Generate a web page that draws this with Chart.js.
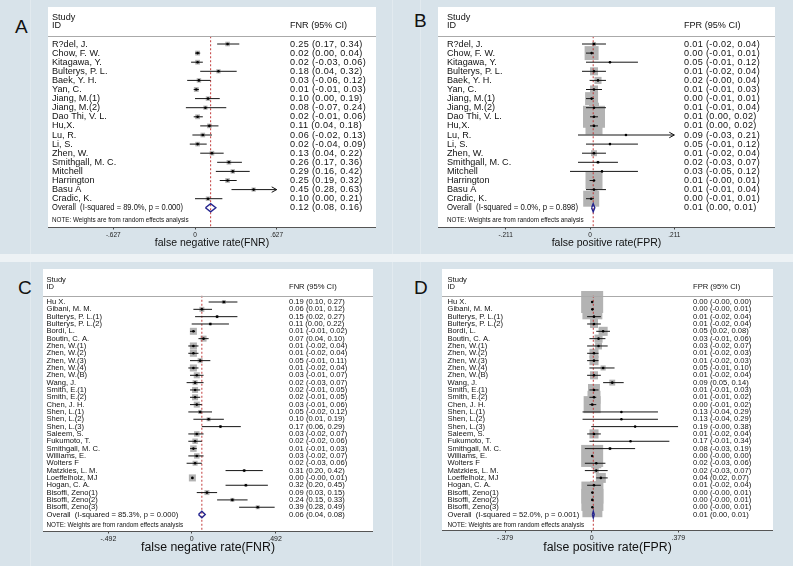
<!DOCTYPE html>
<html>
<head>
<meta charset="utf-8">
<title>Forest plots FNR / FPR</title>
<script src="https://cdn.jsdelivr.net/npm/chart.js@4.4.1/dist/chart.umd.min.js"></script>
<style>
  body { margin: 0; }
  #page { position: relative; width: 793px; height: 566px; background: #d8e3ea; overflow: hidden; font-family: "Liberation Sans", Arial, sans-serif; }
  .band { position: absolute; left: 0; top: 254px; width: 793px; height: 8px; background: #edf2f5; }
  .seam { position: absolute; top: 0; width: 1px; height: 566px; background: #e2eaef; }
  .letter { position: absolute; font-size: 19px; color: #111; line-height: 1; }
  canvas { position: absolute; }
</style>
</head>
<body>
<div id="page">
  <div class="seam" style="left:30px"></div>
  <div class="seam" style="left:392px"></div>
  <div class="seam" style="left:420px"></div>
  <div class="band"></div>
  <div class="letter" style="left:15px;top:17px">A</div>
  <div class="letter" style="left:414px;top:11px">B</div>
  <div class="letter" style="left:18px;top:278px">C</div>
  <div class="letter" style="left:414px;top:278px">D</div>
  <canvas id="chartA"></canvas>
  <canvas id="chartB"></canvas>
  <canvas id="chartC"></canvas>
  <canvas id="chartD"></canvas>
</div>
<script>
const FONT = '"Liberation Sans", Arial, Helvetica, sans-serif';

// ---- studies of panels A and B ----
const studiesAB = ["R?del, J.", "Chow, F. W.", "Kitagawa, Y.", "Bulterys, P. L.", "Baek, Y. H.", "Yan, C.",
    "Jiang, M.(1)", "Jiang, M.(2)", "Dao Thi, V. L.", "Hu,X.", "Lu, R.", "Li, S.", "Zhen, W.",
    "Smithgall, M. C.", "Mitchell", "Harrington", "Basu A", "Cradic, K."];

const fnrA     = [0.25, 0.02, 0.02, 0.18, 0.03, 0.01, 0.10, 0.08, 0.02, 0.11, 0.06, 0.02, 0.13, 0.26, 0.29, 0.25, 0.45, 0.10];
const fnrALow  = [0.17, 0.00, -0.03, 0.04, -0.06, -0.01, 0.00, -0.07, -0.01, 0.04, -0.02, -0.04, 0.04, 0.17, 0.16, 0.19, 0.28, 0.00];
const fnrAHigh = [0.34, 0.04, 0.06, 0.32, 0.12, 0.03, 0.19, 0.24, 0.06, 0.18, 0.13, 0.09, 0.22, 0.36, 0.42, 0.32, 0.63, 0.21];
const weightA  = [5.5, 6.1, 5.9, 4.8, 5.2, 6.1, 5.3, 4.6, 6.0, 5.6, 5.6, 5.5, 5.5, 5.5, 5.1, 5.8, 4.6, 5.3];
const overallA = [0.12, 0.08, 0.16];
const hetA = ["89.0%", "0.000"];
const ticksA = [-0.627, 0, 0.627];

const fprB     = [0.01, 0.004, 0.05, 0.01, 0.02, 0.01, 0.004, 0.01, 0.01, 0.01, 0.09, 0.05, 0.01, 0.02, 0.03, 0.01, 0.01, 0.003];
const fprBLow  = [-0.02, -0.01, -0.01, -0.02, -0.001, -0.01, -0.01, -0.01, 0.00, 0.00, -0.03, -0.01, -0.02, -0.03, -0.05, -0.001, -0.01, -0.01];
const fprBHigh = [0.04, 0.01, 0.12, 0.04, 0.04, 0.03, 0.01, 0.04, 0.02, 0.02, 0.213, 0.12, 0.04, 0.07, 0.12, 0.01, 0.04, 0.01];
const weightB  = [0.8, 9.4, 0.2, 3.1, 2.4, 3.1, 8.1, 4.8, 23.2, 13.9, 0.1, 0.2, 1.7, 0.4, 0.2, 13.9, 2.4, 12.3];
const overallB = [0.008, 0.004, 0.012];
const hetB = ["0.0%", "0.898"];
const ticksB = [-0.211, 0, 0.211];

// ---- studies of panels C and D ----
const studiesCD = ["Hu X.", "Gibani, M. M.", "Bulterys, P. L.(1)", "Bulterys, P. L.(2)", "Bordi, L.", "Boutin, C. A.",
    "Zhen, W.(1)", "Zhen, W.(2)", "Zhen, W.(3)", "Zhen, W.(4)", "Zhen, W.(B)", "Wang, J.", "Smith, E.(1)",
    "Smith, E.(2)", "Chen, J. H.", "Shen, L.(1)", "Shen, L.(2)", "Shen, L.(3)", "Saleem, S.", "Fukumoto, T.",
    "Smithgall, M. C.", "Williams, E.", "Wolters F", "Matzkies, L. M.", "Loeffelholz, MJ", "Hogan, C. A.",
    "Bisoffi, Zeno(1)", "Bisoffi, Zeno(2)", "Bisoffi, Zeno(3)"];

const fnrC     = [0.19, 0.06, 0.15, 0.11, 0.01, 0.07, 0.01, 0.01, 0.05, 0.01, 0.03, 0.02, 0.02, 0.02, 0.03, 0.05, 0.10, 0.17, 0.03, 0.02, 0.01, 0.03, 0.02, 0.31, 0.004, 0.32, 0.09, 0.24, 0.39];
const fnrCLow  = [0.10, 0.01, 0.02, 0.00, -0.01, 0.04, -0.02, -0.02, -0.01, -0.02, -0.01, -0.03, -0.01, -0.01, -0.01, -0.02, 0.01, 0.06, -0.02, -0.02, -0.01, -0.02, -0.03, 0.20, -0.001, 0.20, 0.03, 0.15, 0.28];
const fnrCHigh = [0.27, 0.12, 0.27, 0.22, 0.02, 0.10, 0.04, 0.04, 0.11, 0.04, 0.07, 0.07, 0.05, 0.05, 0.06, 0.12, 0.19, 0.29, 0.07, 0.06, 0.03, 0.07, 0.06, 0.42, 0.01, 0.45, 0.15, 0.33, 0.49];
const weightC  = [2.0, 3.1, 1.1, 1.1, 6.1, 4.5, 6.1, 6.1, 3.1, 6.1, 4.5, 3.1, 4.5, 4.5, 4.5, 2.0, 2.0, 1.1, 3.7, 3.7, 5.2, 3.7, 3.1, 1.1, 6.1, 1.1, 3.1, 2.0, 2.0];
const overallC = [0.06, 0.04, 0.08];
const hetC = ["85.3%", "0.000"];
const ticksC = [-0.492, 0, 0.492];

const fprD     = [0.002, 0.003, 0.01, 0.01, 0.05, 0.03, 0.03, 0.01, 0.01, 0.05, 0.01, 0.09, 0.01, 0.01, 0.002, 0.13, 0.13, 0.19, 0.01, 0.17, 0.08, 0.002, 0.02, 0.02, 0.04, 0.01, 0.003, 0.003, 0.003];
const fprDLow  = [-0.001, -0.001, -0.02, -0.02, 0.02, -0.01, -0.02, -0.02, -0.02, -0.01, -0.02, 0.05, -0.01, -0.01, -0.01, -0.04, -0.04, -0.002, -0.02, -0.01, -0.03, -0.001, -0.03, -0.03, 0.02, -0.02, -0.001, -0.001, -0.001];
const fprDHigh = [0.004, 0.007, 0.04, 0.04, 0.08, 0.06, 0.07, 0.03, 0.03, 0.10, 0.04, 0.14, 0.03, 0.02, 0.02, 0.29, 0.29, 0.378, 0.04, 0.34, 0.19, 0.004, 0.06, 0.07, 0.07, 0.04, 0.006, 0.006, 0.006];
const weightD  = [11.2, 9.2, 1.5, 1.5, 1.9, 1.5, 1.1, 1.9, 1.9, 0.6, 1.5, 0.8, 3.3, 3.9, 6.7, 0.02, 0.02, 0.02, 1.9, 0.02, 0.2, 11.2, 2.3, 0.6, 2.3, 1.5, 11.2, 11.2, 9.2];
const overallD = [0.007, 0.003, 0.011];
const hetD = ["52.0%", "0.001"];
const ticksD = [-0.379, 0, 0.379];

// page geometry of each panel (white plot region, axis, text columns)
const layoutA = {left: 48, right: 376, top: 7, axisY: 227, bottom: 252, zeroX: 195, tickX: 276.7, row0: 44, rowH: 9.1,
    nameX: 52, ciX: 290, font: 9.1, ciSpacing: "0.35px", overallW: 131, note: 6.3, tick: 6.5,
    titleFont: 10.5, titlePad: 2.5, boxK: 1.96};
const layoutB = {left: 438, right: 775, top: 7, axisY: 227, bottom: 252, zeroX: 590, tickX: 674.3, row0: 44, rowH: 9.1,
    nameX: 447, ciX: 684, font: 9.1, ciSpacing: "0.35px", overallW: 131, note: 6.3, tick: 6.5,
    titleFont: 10.5, titlePad: 2.5, boxK: 4.56};
const layoutC = {left: 43, right: 373, top: 269, axisY: 531, bottom: 562, zeroX: 191.7, tickX: 275, row0: 302, rowH: 7.33,
    nameX: 46.5, ciX: 289, font: 7.6, ciSpacing: "0px", overallW: 134, note: 6.3, tick: 7,
    titleFont: 12.3, titlePad: 7.5, boxK: 2.84};
const layoutD = {left: 442, right: 773, top: 269, axisY: 530, bottom: 562, zeroX: 591.7, tickX: 678.3, row0: 302, rowH: 7.33,
    nameX: 447.5, ciX: 693, font: 7.6, ciSpacing: "0px", overallW: 134, note: 6.3, tick: 7,
    titleFont: 12.3, titlePad: 7.5, boxK: 6.58};

function ciText(e, lo, hi){
    return `${e.toFixed(2)} (${lo.toFixed(2)}, ${hi.toFixed(2)})`;
}

function tickLabel(v){
    if(v === 0) return "0";
    return (v < 0 ? "-" : "") + Math.abs(v).toFixed(3).slice(1);
}

const forestText = {
    id: "forestText",
    beforeDraw(chart){
        const {ctx, chartArea: a} = chart;
        ctx.save();
        ctx.fillStyle = "#fff";
        ctx.fillRect(a.left, a.top, a.right - a.left, a.bottom - a.top);
        ctx.restore();
    },
    afterDraw(chart, args, o){
        const {ctx, chartArea: a} = chart;
        const ys = chart.scales.y;
        const last = o.rows.length - 1;
        ctx.save();
        ctx.fillStyle = "#111";
        ctx.textBaseline = "middle";
        ctx.font = o.font + "px " + FONT;
        ctx.fillText("Study", o.nameX, ys.getPixelForValue(-2.95));
        ctx.fillText("ID", o.nameX, ys.getPixelForValue(-2.0));
        ctx.fillText(o.ciHead, o.ciX, ys.getPixelForValue(-2.0));
        o.rows.forEach((r, i) => {
            const py = ys.getPixelForValue(i);
            if(i === last) ctx.fillText(r[0], o.nameX, py, o.overallW);
            else ctx.fillText(r[0], o.nameX, py);
        });
        ctx.letterSpacing = o.ciSpacing;
        o.rows.forEach((r, i) => ctx.fillText(r[1], o.ciX, ys.getPixelForValue(i)));
        ctx.letterSpacing = "0px";
        ctx.font = o.note + "px " + FONT;
        ctx.fillText("NOTE: Weights are from random effects analysis", o.nameX, ys.getPixelForValue(o.rows.length + 0.4));
        const hy = Math.round(ys.getPixelForValue(-0.85)) + 0.5;
        ctx.strokeStyle = "#aaa";
        ctx.lineWidth = 1;
        ctx.beginPath();
        ctx.moveTo(a.left, hy);
        ctx.lineTo(a.right, hy);
        ctx.stroke();
        ctx.restore();
    }
};

function forest(canvasId, p){
    const L = p.layout;
    const canvas = document.getElementById(canvasId);
    canvas.width = L.right - L.left;
    canvas.height = L.bottom - L.top;
    canvas.style.left = L.left + "px";
    canvas.style.top = L.top + "px";

    const tMax = p.ticks[p.ticks.length - 1];
    const unit = (L.tickX - L.zeroX) / tMax;
    const n = p.names.length;
    const yMax = (L.axisY - L.row0) / L.rowH;

    const datasets = [];
    // study weight boxes
    datasets.push({
        data: p.est.map((e, i) => ({x: e, y: i})),
        pointStyle: "rect",
        pointRadius: p.weights.map(w => L.boxK * Math.sqrt(w) / Math.SQRT2),
        backgroundColor: "#b3b3b3",
        borderWidth: 0,
        order: 6
    });
    // overall estimate line
    datasets.push({
        data: [{x: p.overall[0], y: -0.85}, {x: p.overall[0], y: yMax}],
        showLine: true, pointRadius: 0,
        borderColor: "#c23b3b", borderWidth: 1, borderDash: [2, 2],
        order: 5
    });
    // confidence intervals
    p.est.forEach((e, i) => {
        const hi = Math.min(p.hi[i], tMax);
        datasets.push({
            data: [{x: p.lo[i], y: i}, {x: hi, y: i}],
            showLine: true, pointRadius: 0,
            borderColor: "#151515", borderWidth: 1,
            order: 4
        });
        if(p.hi[i] > tMax){
            const d = 5 / unit;
            datasets.push({
                data: [{x: tMax - d, y: i - 0.3}, {x: tMax, y: i}, {x: tMax - d, y: i + 0.3}],
                showLine: true, pointRadius: 0,
                borderColor: "#151515", borderWidth: 1,
                order: 4
            });
        }
    });
    // point estimates
    datasets.push({
        data: p.est.map((e, i) => ({x: e, y: i})),
        pointStyle: "circle", pointRadius: 1.3,
        backgroundColor: "#000", borderWidth: 0,
        order: 2
    });
    // pooled diamond
    const [oe, ol, oh] = p.overall;
    datasets.push({
        data: [{x: ol, y: n}, {x: oe, y: n - 0.45}, {x: oh, y: n}, {x: oe, y: n + 0.45}, {x: ol, y: n}],
        showLine: true, pointRadius: 0,
        borderColor: "#25258f", borderWidth: 1.4,
        order: 1
    });

    const rows = p.names.map((nm, i) => [nm, ciText(p.est[i], p.lo[i], p.hi[i])]);
    rows.push([`Overall  (I-squared = ${p.het[0]}, p = ${p.het[1]})`, ciText(oe, ol, oh)]);

    new Chart(canvas, {
        type: "scatter",
        data: {datasets},
        options: {
            responsive: false,
            animation: false,
            events: [],
            layout: {padding: 0, autoPadding: false},
            plugins: {
                legend: {display: false},
                tooltip: {enabled: false},
                forestText: {rows, ciHead: p.ciHead, font: L.font, note: L.note, ciSpacing: L.ciSpacing,
                    overallW: L.overallW, nameX: L.nameX - L.left, ciX: L.ciX - L.left}
            },
            scales: {
                x: {
                    type: "linear",
                    min: (L.left - L.zeroX) / unit,
                    max: (L.right - L.zeroX) / unit,
                    afterBuildTicks: s => { s.ticks = p.ticks.map(v => ({value: v})); },
                    afterFit: s => { s.height = L.bottom - L.axisY; },
                    ticks: {callback: v => tickLabel(v), font: {size: L.tick, family: FONT}, color: "#222",
                        padding: 1.5, maxRotation: 0, autoSkip: false},
                    grid: {display: true, drawOnChartArea: false, drawTicks: true, tickLength: 2.5, color: "#444"},
                    border: {display: true, color: "#555", width: 1},
                    title: {display: true, text: p.title, color: "#111",
                        font: {size: L.titleFont, family: FONT}, padding: {top: 0, bottom: L.titlePad}}
                },
                y: {
                    type: "linear", display: false, reverse: true,
                    min: (L.top - L.row0) / L.rowH,
                    max: yMax
                }
            }
        },
        plugins: [forestText]
    });
}

forest("chartA", {names: studiesAB, est: fnrA, lo: fnrALow, hi: fnrAHigh, weights: weightA, overall: overallA,
    het: hetA, ticks: ticksA, ciHead: "FNR (95% CI)", title: "false negative rate(FNR)", layout: layoutA});
forest("chartB", {names: studiesAB, est: fprB, lo: fprBLow, hi: fprBHigh, weights: weightB, overall: overallB,
    het: hetB, ticks: ticksB, ciHead: "FPR (95% CI)", title: "false positive rate(FPR)", layout: layoutB});
forest("chartC", {names: studiesCD, est: fnrC, lo: fnrCLow, hi: fnrCHigh, weights: weightC, overall: overallC,
    het: hetC, ticks: ticksC, ciHead: "FNR (95% CI)", title: "false negative rate(FNR)", layout: layoutC});
forest("chartD", {names: studiesCD, est: fprD, lo: fprDLow, hi: fprDHigh, weights: weightD, overall: overallD,
    het: hetD, ticks: ticksD, ciHead: "FPR (95% CI)", title: "false positive rate(FPR)", layout: layoutD});
</script>
</body>
</html>
